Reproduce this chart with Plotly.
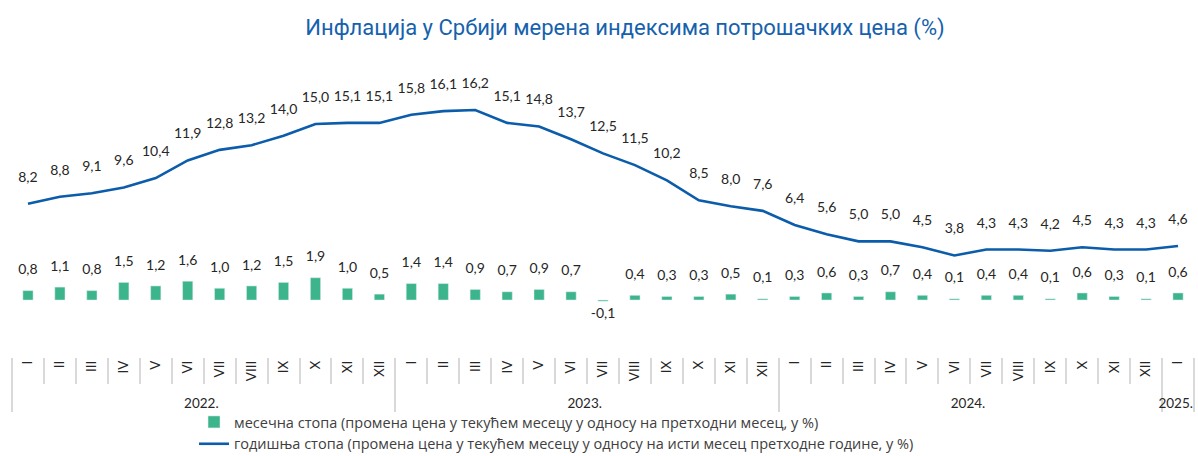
import plotly.graph_objects as go

month_labels = ["I", "II", "III", "IV", "V", "VI", "VII", "VIII", "IX", "X", "XI", "XII"]
years = ["2022.", "2023.", "2024.", "2025."]
months_per_year = [12, 12, 12, 1]

monthly = [0.8, 1.1, 0.8, 1.5, 1.2, 1.6, 1.0, 1.2, 1.5, 1.9, 1.0, 0.5,
           1.4, 1.4, 0.9, 0.7, 0.9, 0.7, -0.1, 0.4, 0.3, 0.3, 0.5, 0.1,
           0.3, 0.6, 0.3, 0.7, 0.4, 0.1, 0.4, 0.4, 0.1, 0.6, 0.3, 0.1,
           0.6]
annual = [8.2, 8.8, 9.1, 9.6, 10.4, 11.9, 12.8, 13.2, 14.0, 15.0, 15.1, 15.1,
          15.8, 16.1, 16.2, 15.1, 14.8, 13.7, 12.5, 11.5, 10.2, 8.5, 8.0, 7.6,
          6.4, 5.6, 5.0, 5.0, 4.5, 3.8, 4.3, 4.3, 4.2, 4.5, 4.3, 4.3,
          4.6]

title = "Инфлација у Србији мерена индексима потрошачких цена (%)"
name_monthly = "месечна стопа (промена цена у текућем месецу у односу на претходни месец, у %)"
name_annual = "годишња стопа (промена цена у текућем месецу у односу на исти месец претходне године, у %)"

x_outer, x_inner = [], []
for y, n in zip(years, months_per_year):
    x_outer += [y] * n
    x_inner += month_labels[:n]
x = [x_outer, x_inner]

GREEN = "#3cb48c"
BLUE = "#0b5cab"
LABEL_FONT = dict(family="Lato, Noto Sans, sans-serif", size=14, color="#262626")

fig = go.Figure()
fig.add_trace(go.Bar(x=x, y=monthly, name=name_monthly, marker_color=GREEN,
                     width=0.32, hoverinfo="skip"))
fig.add_trace(go.Scatter(x=x, y=annual, name=name_annual, mode="lines",
                         line=dict(color=BLUE, width=2.6), hoverinfo="skip"))
# labels for bars
fig.add_trace(go.Scatter(
    x=x, y=monthly, mode="markers+text", showlegend=False, hoverinfo="skip",
    cliponaxis=False,
    text=[f"{v:.1f}".replace(".", ",") for v in monthly],
    textposition=["top center" if v >= 0 else "bottom center" for v in monthly],
    marker=dict(size=[19 if v >= 0 else 9 for v in monthly], opacity=0,
                line=dict(width=0)),
    textfont=LABEL_FONT))
# labels for line
fig.add_trace(go.Scatter(
    x=x, y=annual, mode="markers+text", showlegend=False, hoverinfo="skip",
    cliponaxis=False,
    text=[f"{v:.1f}".replace(".", ",") for v in annual],
    textposition="top center",
    marker=dict(size=28, opacity=0, line=dict(width=0)),
    textfont=LABEL_FONT))

top_px, bot_px, zero_px = 60, 357, 300
H = 456
scale = (zero_px - 110) / 16.2
ymax = (zero_px - top_px) / scale
ymin = -(bot_px - zero_px) / scale
zero_pos = (bot_px - zero_px) / (bot_px - top_px)
n = len(monthly)

fig.update_layout(
    width=1198, height=H,
    margin=dict(l=12, r=4, t=top_px, b=H - bot_px, autoexpand=False),
    paper_bgcolor="white", plot_bgcolor="white",
    font=dict(family="Lato, sans-serif", color="#404040"),
    title=dict(text=title, x=625 / 1198, xanchor="center", y=1 - 27 / H, yanchor="middle",
               font=dict(family="Roboto, sans-serif", size=22, color="#1561ad")),
    showlegend=True,
    legend=dict(orientation="v", x=0.154, y=1 - 406 / H, yref="container",
                xanchor="left", yanchor="top",
                font=dict(family="Open Sans, Roboto, sans-serif", size=14.5,
                          color="#404040"),
                tracegroupgap=0, itemwidth=30, bgcolor="rgba(0,0,0,0)"),
    xaxis=dict(type="multicategory", showline=False, showgrid=False, zeroline=False,
               ticks="outside", tickson="boundaries", ticklen=26, tickcolor="#d9d9d9", tickwidth=2,
               showdividers=True, dividercolor="#d9d9d9", dividerwidth=2,
               tickangle=-90, tickfont=dict(family="Lato, sans-serif", size=13.5, color="#262626"),
               range=[-0.5, n - 0.5]),
    xaxis2=dict(overlaying="x", anchor="free", position=zero_pos, range=[-0.5, n - 0.5],
                showticklabels=False, showgrid=False, zeroline=False, showline=True,
                linecolor="#d9d9d9", linewidth=2, ticks="outside", ticklen=5,
                tickcolor="#d9d9d9", tickwidth=2, tickmode="linear", tick0=-0.5, dtick=1),
    yaxis=dict(visible=False, range=[ymin, ymax], showgrid=False, zeroline=False),
)

fig.write_html("out.html", config={"displayModeBar": False},
               post_script="document.body.style.margin='0px';")
